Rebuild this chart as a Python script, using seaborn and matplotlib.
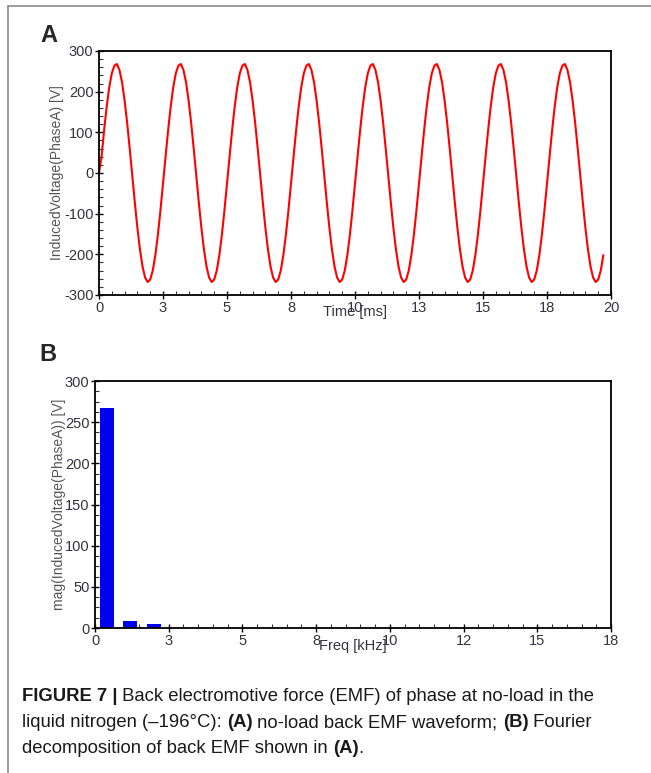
import numpy as np
import matplotlib
matplotlib.use("Agg")
import matplotlib.pyplot as plt
import seaborn as sns
from matplotlib import font_manager
from matplotlib.ticker import MultipleLocator

# waveform of phase A, one sample every 0.1 ms
T_STEP = 0.1
volt_A = [
    0, 40, 105, 163, 211, 245, 264, 268, 253, 223, 178, 123, 60, -7, -73, -135, -188, -230, -257, -268, -262, -240, -202, -152, -92,
    -25, 40, 105, 163, 211, 245, 264, 268, 253, 223, 178, 123, 60, -7, -73, -135, -188, -230, -257, -268, -262, -240, -202, -152, -92,
    -25, 40, 105, 163, 211, 245, 264, 268, 253, 223, 178, 123, 60, -7, -73, -135, -188, -230, -257, -268, -262, -240, -202, -152, -92,
    -25, 40, 105, 163, 211, 245, 264, 268, 253, 223, 178, 123, 60, -7, -73, -135, -188, -230, -257, -268, -262, -240, -202, -152, -92,
    -25, 40, 105, 163, 211, 245, 264, 268, 253, 223, 178, 123, 60, -7, -73, -135, -188, -230, -257, -268, -262, -240, -202, -152, -92,
    -25, 40, 105, 163, 211, 245, 264, 268, 253, 223, 178, 123, 60, -7, -73, -135, -188, -230, -257, -268, -262, -240, -202, -152, -92,
    -25, 40, 105, 163, 211, 245, 264, 268, 253, 223, 178, 123, 60, -7, -73, -135, -188, -230, -257, -268, -262, -240, -202, -152, -92,
    -25, 40, 105, 163, 211, 245, 264, 268, 253, 223, 178, 123, 60, -7, -73, -135, -188, -230, -257, -268, -262, -240, -202,
]
time_A = np.arange(len(volt_A)) * T_STEP

# harmonic spectrum, panel B
freq_B = [0.4, 1.2, 2.0]
mag_B = [267, 8, 5.3]

xticks_A = [0, 2.5, 5, 7.5, 10, 12.5, 15, 17.5, 20]
xlabels_A = ['0', '3', '5', '8', '10', '13', '15', '18', '20']
xticks_B = [0, 2.5, 5, 7.5, 10, 12.5, 15, 17.5]
xlabels_B = ['0', '3', '5', '8', '10', '12', '15', '18']

sns.set_style('white')
plt.rcParams['font.family'] = ['Liberation Sans', 'DejaVu Sans']
plt.rcParams['axes.unicode_minus'] = False

names = {f.name for f in font_manager.fontManager.ttflist}
CAP_FONT = 'Liberation Sans Narrow' if 'Liberation Sans Narrow' in names else 'Liberation Sans'
CAP_SIZE = 13.0 if CAP_FONT == 'Liberation Sans Narrow' else 13.35

W, H = 651, 773
fig = plt.figure(figsize=(W / 100, H / 100), dpi=100)

def px_axes(l, t, r, b):
    return fig.add_axes([l / W, 1 - b / H, (r - l) / W, (b - t) / H])

TICK_C = '#333340'
LAB_C = '#555555'

def style_axes(ax):
    for s in ax.spines.values():
        s.set_visible(True)
        s.set_color('black')
        s.set_linewidth(1.3)
    ax.tick_params(which='major', direction='inout', length=6, width=1.0,
                   colors='black', labelcolor=TICK_C, labelsize=10.5, pad=1)
    ax.tick_params(which='minor', direction='in', length=3, width=0.8, colors='#333333')
    ax.tick_params(bottom=True, left=True, top=False, right=False)
    ax.tick_params(which='minor', bottom=True, left=True, top=False, right=False)

# panel A
axA = px_axes(99, 51, 611, 295)
sns.lineplot(x=time_A, y=volt_A, ax=axA, color='#ff0000', linewidth=1.5)
axA.set_xlim(0, 20)
axA.set_ylim(-300, 300)
axA.set_xticks(xticks_A)
axA.set_xticklabels(xlabels_A)
axA.set_yticks(range(-300, 301, 100))
axA.xaxis.set_minor_locator(MultipleLocator(0.5))
axA.yaxis.set_minor_locator(MultipleLocator(20))
style_axes(axA)
axA.set_xlabel('Time [ms]', fontsize=10.5, color=TICK_C, va='center')
axA.xaxis.set_label_coords(0.5, -17 / 244)
axA.set_ylabel('InducedVoltage(PhaseA) [V]', fontsize=10, color=LAB_C, va='center')
axA.yaxis.set_label_coords(-42 / 512, 0.5)

# panel B
axB = px_axes(95, 381, 611, 628)
sns.barplot(x=freq_B, y=mag_B, ax=axB, native_scale=True, width=0.6,
            color='#0000f0', saturation=1, edgecolor='#0000f0', linewidth=0)
axB.set_xlim(0, 17.5)
axB.set_ylim(0, 300)
axB.set_xticks(xticks_B)
axB.set_xticklabels(xlabels_B)
axB.set_yticks(range(0, 301, 50))
axB.xaxis.set_minor_locator(MultipleLocator(0.5))
axB.yaxis.set_minor_locator(MultipleLocator(12.5))
style_axes(axB)
axB.set_xlabel('Freq [kHz]', fontsize=10.5, color=TICK_C, va='center')
axB.xaxis.set_label_coords(0.5, -18 / 247)
axB.set_ylabel('mag(InducedVoltage(PhaseA)) [V]', fontsize=10, color=LAB_C, va='center')
axB.yaxis.set_label_coords(-36 / 516, 0.5)

# panel letters
fig.text(40 / W, 1 - 42 / H, 'A', fontsize=17, fontweight='bold', ha='left', va='baseline')
fig.text(39 / W, 1 - 361 / H, 'B', fontsize=17, fontweight='bold', ha='left', va='baseline')

# page frame
fig.add_artist(plt.Line2D([8 / W, 1], [1 - 6 / H, 1 - 6 / H], color='#8a8a8a', lw=1.2))
fig.add_artist(plt.Line2D([8 / W, 8 / W], [0, 1 - 6 / H], color='#8a8a8a', lw=1.2))

# caption with bold pieces
renderer = fig.canvas.get_renderer()

def caption_line(x0, y0, parts, size=CAP_SIZE):
    x = x0
    for txt, bold in parts:
        t = fig.text(x / W, 1 - y0 / H, txt, fontsize=size, family=[CAP_FONT, 'DejaVu Sans'],
                     fontweight='bold' if bold else 'normal', color='#1a1a1a',
                     ha='left', va='baseline')
        bb = t.get_window_extent(renderer)
        x = bb.x1

caption_line(22, 701, [('FIGURE 7 |', True),
                       (' Back electromotive force (EMF) of phase at no-load in the', False)])
caption_line(22, 727, [('liquid nitrogen (–196°C): ', False), ('(A)', True),
                       (' no-load back EMF waveform; ', False), ('(B)', True), (' Fourier', False)])
caption_line(22, 753, [('decomposition of back EMF shown in ', False), ('(A)', True), ('.', False)])

fig.savefig('out.png', dpi=100)
